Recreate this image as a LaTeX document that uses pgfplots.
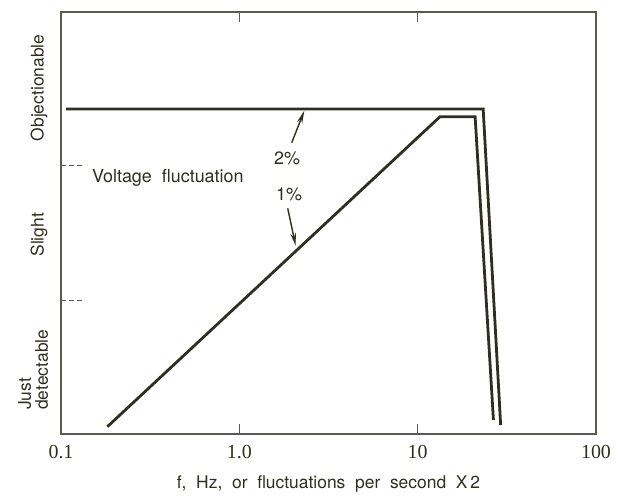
\documentclass[border=0pt]{standalone}
\usepackage{fontspec}
\setmainfont{TeX Gyre Heros}
\newfontfamily\numfont{Liberation Serif}
\usepackage{pgfplots}
\pgfplotsset{compat=1.18}
\usetikzlibrary{arrows.meta,calc}
\definecolor{ink}{rgb}{0.18,0.18,0.13}
\definecolor{frame}{rgb}{0.35,0.36,0.30}
\begin{document}
\begin{tikzpicture}
\begin{axis}[
    name=ax,
    scale only axis,
    width=535bp, height=422bp,
    xmode=log, log basis x=10,
    xmin=0.1, xmax=100,
    ymin=0, ymax=422,
    xtick={0.1,1,10,100},
    xticklabels={0.1,1.0,10,100},
    minor xtick={},
    ytick=\empty,
    major tick length=10bp,
    tick align=inside,
    axis line style={frame, line width=1.2pt},
    every tick/.style={frame, line width=1pt},
    tick label style={font=\numfont\fontsize{20}{22}\selectfont, text=ink},
    /pgf/number format/assume math mode=true,
    xticklabel style={yshift=-8bp},
    xlabel={f,\ \ Hz,\ \ or\ \ fluctuations\ \ per\ \ second\ \ X\,2},
    xlabel style={font=\fontsize{17.5}{20}\selectfont, text=ink, yshift=-10bp},
    clip=false,
]
% 2% curve
\addplot[ink, line width=2.8pt, line join=miter] coordinates {
    (0.1067,325) (23.3,325) (29.2,9)};
% 1% curve
\addplot[ink, line width=2.8pt, line join=miter] coordinates {
    (0.182,7.3) (13.35,317.3) (21.0,317.3) (26.6,14)};
% dashed level marks
\addplot[frame, dash pattern=on 5bp off 3bp, line width=1pt] coordinates {(0.1,268) (0.1328,268)};
\addplot[frame, dash pattern=on 5bp off 3bp, line width=1pt] coordinates {(0.1,133) (0.1328,133)};
% arrows
\draw[ink, line width=1.4pt, -{Stealth[length=13bp,width=5.5bp]}] (axis cs:1.968,291.3) -- (axis cs:2.315,323.3);
\draw[ink, line width=1.4pt, -{Stealth[length=13bp,width=5.5bp]}] (axis cs:1.868,225.7) -- (axis cs:2.072,188);
\node[text=ink, font=\fontsize{18}{20}\selectfont] at (axis cs:1.851,276) {2\%};
\node[text=ink, font=\fontsize{18}{20}\selectfont] at (axis cs:1.90,240) {1\%};
\node[text=ink, font=\fontsize{18}{20}\selectfont, anchor=west, inner sep=0pt] at (axis cs:0.149,256) {Voltage\ \ fluctuation};
% level names
\node[text=ink, font=\fontsize{17.5}{20}\selectfont, rotate=90] at (axis description cs:-0.041,0.82) {Objectionable};
\node[text=ink, font=\fontsize{17.5}{20}\selectfont, rotate=90] at (axis description cs:-0.041,0.472) {Slight};
\node[text=ink, font=\fontsize{17.5}{17}\selectfont, rotate=90, align=left, anchor=west, inner sep=0pt] at (axis description cs:-0.052,0.057) {Just\\detectable};
\end{axis}
\pgfresetboundingbox
\path[use as bounding box] ($(ax.south west)+(-61bp,-62bp)$) rectangle ($(ax.north east)+(22bp,12bp)$);
\end{tikzpicture}
\end{document}
